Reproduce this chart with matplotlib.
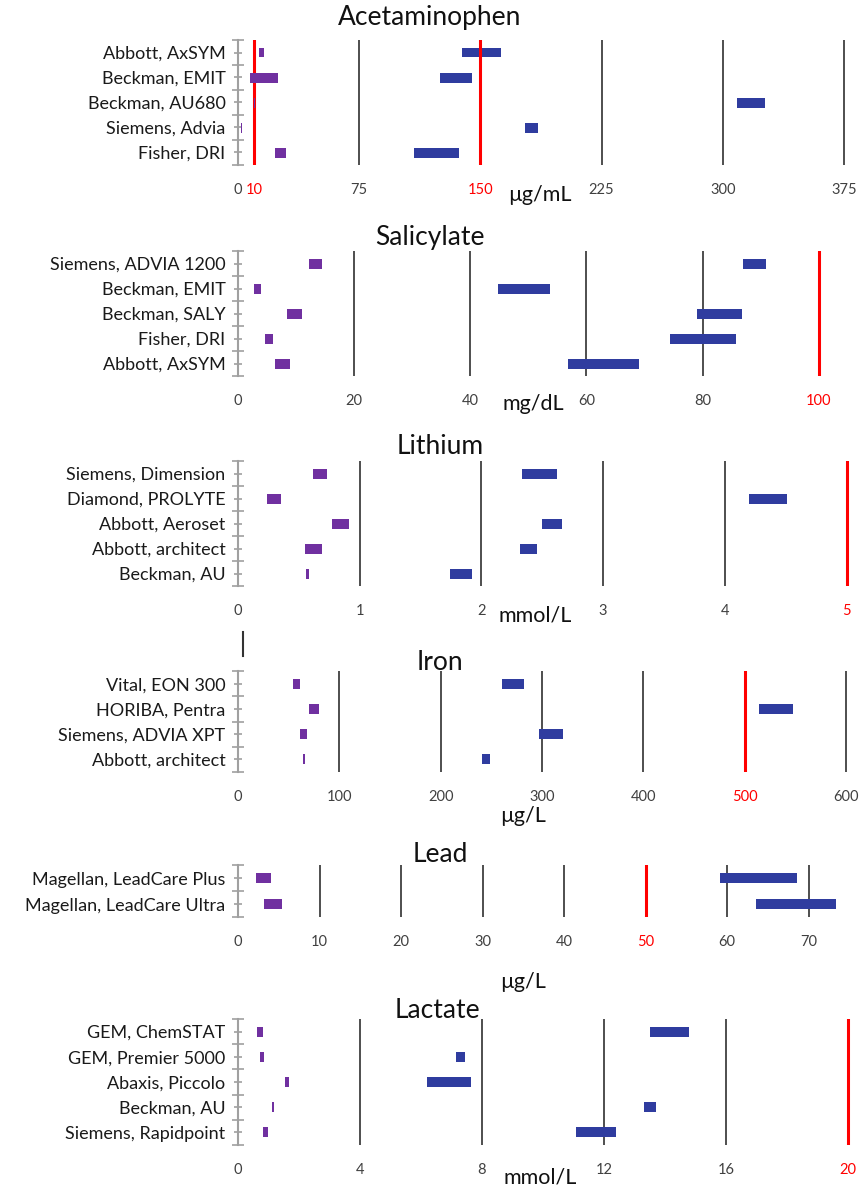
import numpy as np
import matplotlib.pyplot as plt
from matplotlib.ticker import FixedLocator

plt.rcParams['font.family'] = ['Lato', 'DejaVu Sans']

W, H = 860, 1188
purple = '#7030A0'
blue = '#2F3C9F'

# Acetaminophen
acet_names = ['Abbott, AxSYM', 'Beckman, EMIT', 'Beckman, AU680', 'Siemens, Advia', 'Fisher, DRI']
acet_low_lo = [12.8, 7.7, 10.2, 1.6, 22.6]
acet_low_hi = [16.2, 24.7, 10.8, 2.3, 29.8]
acet_high_lo = [138.6, 125, 308.6, 177.7, 108.8]
acet_high_hi = [162.7, 144.7, 326.3, 185.9, 137]
acet_ticks = [0, 10, 75, 150, 225, 300, 375]
acet_red = [10, 150]

# Salicylate
sal_names = ['Siemens, ADVIA 1200', 'Beckman, EMIT', 'Beckman, SALY', 'Fisher, DRI', 'Abbott, AxSYM']
sal_low_lo = [12.3, 2.7, 8.5, 4.6, 6.3]
sal_low_hi = [14.4, 4.0, 11.1, 6.1, 9.0]
sal_high_lo = [86.9, 44.8, 79.0, 74.3, 56.8]
sal_high_hi = [90.9, 53.8, 86.7, 85.7, 69.0]
sal_ticks = [0, 20, 40, 60, 80, 100]
sal_red = [100]

# Lithium
li_names = ['Siemens, Dimension', 'Diamond, PROLYTE', 'Abbott, Aeroset', 'Abbott, architect', 'Beckman, AU']
li_low_lo = [0.62, 0.24, 0.77, 0.55, 0.56]
li_low_hi = [0.73, 0.35, 0.91, 0.69, 0.58]
li_high_lo = [2.33, 4.20, 2.50, 2.32, 1.74]
li_high_hi = [2.62, 4.51, 2.66, 2.46, 1.92]
li_ticks = [0, 1, 2, 3, 4, 5]
li_red = [5]

# Iron
fe_names = ['Vital, EON 300', 'HORIBA, Pentra', 'Siemens, ADVIA XPT', 'Abbott, architect']
fe_low_lo = [54, 70, 61, 64]
fe_low_hi = [61, 80, 68, 66]
fe_high_lo = [261, 514, 297, 241]
fe_high_hi = [282, 548, 321, 249]
fe_ticks = [0, 100, 200, 300, 400, 500, 600]
fe_red = [500]

# Lead
pb_names = ['Magellan, LeadCare Plus', 'Magellan, LeadCare Ultra']
pb_low_lo = [2.2, 3.2]
pb_low_hi = [4.0, 5.4]
pb_high_lo = [59.1, 63.5]
pb_high_hi = [68.6, 73.4]
pb_ticks = [0, 10, 20, 30, 40, 50, 60, 70]
pb_red = [50]

# Lactate
lac_names = ['GEM, ChemSTAT', 'GEM, Premier 5000', 'Abaxis, Piccolo', 'Beckman, AU', 'Siemens, Rapidpoint']
lac_low_lo = [0.61, 0.72, 1.55, 1.12, 0.83]
lac_low_hi = [0.83, 0.86, 1.68, 1.17, 0.99]
lac_high_lo = [13.5, 7.15, 6.2, 13.3, 11.08]
lac_high_hi = [14.8, 7.44, 7.64, 13.7, 12.4]
lac_ticks = [0, 4, 8, 12, 16, 20]
lac_red = [20]

fig = plt.figure(figsize=(W / 100, H / 100), dpi=100)


def fx(x):
    return x / W


def fy(y):
    return 1 - y / H


def panel(top, bottom, names, llo, lhi, hlo, hhi, xmax, ticks, red,
          title, title_xy, unit, unit_xy):
    left = 238
    ax = fig.add_axes([fx(left), fy(bottom), fx(W - left), (bottom - top) / H])
    n = len(names)
    y = np.arange(n)
    llo, lhi, hlo, hhi = map(np.array, (llo, lhi, hlo, hhi))
    ax.barh(y, hhi - hlo, left=hlo, height=0.4, color=blue, zorder=2)
    ax.barh(y, lhi - llo, left=llo, height=0.4, color=purple, zorder=4)
    for t in ticks:
        if t == 0:
            continue
        if t in red:
            ax.axvline(t, color='#FF0000', lw=2.2, zorder=3)
        else:
            ax.axvline(t, color='#404040', lw=1.3, zorder=1)
    ax.set_xlim(0, xmax)
    ax.set_ylim(n - 0.5, -0.5)
    ax.set_xticks(ticks)
    ax.set_xticklabels([str(t) for t in ticks])
    ax.tick_params(axis='x', length=0, pad=13, labelsize=10.5)
    for lab, t in zip(ax.get_xticklabels(), ticks):
        lab.set_color('#FF0000' if t in red else '#404040')
    ax.set_yticks(y)
    ax.set_yticklabels(names, fontsize=13, color='#1a1a1a')
    ax.yaxis.set_minor_locator(FixedLocator(np.arange(n + 1) - 0.5))
    ax.tick_params(axis='y', which='major', direction='inout', length=6,
                   width=1.2, color='#A0A0A0', pad=6)
    ax.tick_params(axis='y', which='minor', direction='inout', length=9,
                   width=1.2, color='#A0A0A0')
    for s in ['top', 'right', 'bottom']:
        ax.spines[s].set_visible(False)
    ax.spines['left'].set_color('#A0A0A0')
    ax.spines['left'].set_linewidth(1.5)
    fig.text(fx(title_xy[0]), fy(title_xy[1]), title, ha='center', va='center',
             fontsize=19, color='#111111')
    fig.text(fx(unit_xy[0]), fy(unit_xy[1]), unit, ha='center', va='center',
             fontsize=15.5, color='#111111')
    return ax


panel(40, 165, acet_names, acet_low_lo, acet_low_hi, acet_high_lo, acet_high_hi,
      385, acet_ticks, acet_red, 'Acetaminophen', (430, 18), 'µg/mL', (540, 195))
panel(251, 376, sal_names, sal_low_lo, sal_low_hi, sal_high_lo, sal_high_hi,
      107.1, sal_ticks, sal_red, 'Salicylate', (430, 237), 'mg/dL', (533, 404))
panel(461, 586, li_names, li_low_lo, li_low_hi, li_high_lo, li_high_hi,
      5.11, li_ticks, li_red, 'Lithium', (440, 447), 'mmol/L', (535, 616))
panel(671, 772, fe_names, fe_low_lo, fe_low_hi, fe_high_lo, fe_high_hi,
      614, fe_ticks, fe_red, 'Iron', (440, 663), 'µg/L', (523, 816))
panel(865, 917, pb_names, pb_low_lo, pb_low_hi, pb_high_lo, pb_high_hi,
      76.3, pb_ticks, pb_red, 'Lead', (440, 855), 'µg/L', (523, 982))
panel(1019, 1145, lac_names, lac_low_lo, lac_low_hi, lac_high_lo, lac_high_hi,
      20.4, lac_ticks, lac_red, 'Lactate', (437, 1011), 'mmol/L', (540, 1178))

# leftover line fragment between the lithium and iron panels
fig.add_artist(plt.Line2D([fx(243), fx(243)], [fy(632), fy(656)], color='#333333', lw=1.5))

fig.savefig('out.png', dpi=100)
